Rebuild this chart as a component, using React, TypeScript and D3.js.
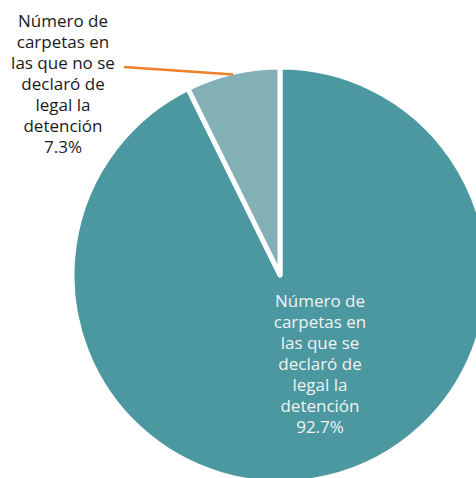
import React from "react";
import * as d3 from "d3";

const categories = [
  "Número de carpetas en las que se declaró de legal la detención",
  "Número de carpetas en las que no se declaró de legal la detención",
];
const values = [92.7, 7.3];
const labelLines = [
  ["Número de", "carpetas en", "las que se", "declaró de", "legal la", "detención", "92.7%"],
  ["Número de", "carpetas en", "las que no se", "declaró de", "legal la", "detención", "7.3%"],
];
const colors = ["#4b98a0", "#83b0b7"];

export default function App() {
  const W = 476, H = 478;
  const cx = 280, cy = 275, r = 208;
  const pie = d3.pie<number>().sort(null).value((d) => d);
  const arcs = pie(values);
  const arc = d3.arc<d3.PieArcDatum<number>>().innerRadius(0).outerRadius(r);
  const lh = 21;
  const fs = 17;

  const small = arcs[1];
  const mid = (small.startAngle + small.endAngle) / 2;
  const lx1 = cx + Math.sin(mid) * (r - 2);
  const ly1 = cy - Math.cos(mid) * (r - 2);

  const bigLabel = { x: 320, y: 307 };
  const smallLabel = { x: 63, y: 27 };

  return (
    <svg width={W} height={H} style={{ position: "absolute", left: 0, top: 0 }}>
      <g transform={`translate(${cx},${cy})`}>
        {arcs.map((a, i) => (
          <path key={i} d={arc(a) || ""} fill={colors[i]} stroke="#fff" strokeWidth={5} strokeLinejoin="round" />
        ))}
      </g>
      <line x1={lx1} y1={ly1} x2={124} y2={67} stroke="#f07f2a" strokeWidth={2.5} />
      <text fontFamily="'Open Sans', sans-serif" fontSize={fs} fill="#f2f2f2" textAnchor="middle">
        {labelLines[0].map((t, i) => (
          <tspan key={i} x={bigLabel.x} y={bigLabel.y + i * lh}>{t}</tspan>
        ))}
      </text>
      <text fontFamily="'Open Sans', sans-serif" fontSize={fs} fill="#1a1a1a" textAnchor="middle">
        {labelLines[1].map((t, i) => (
          <tspan key={i} x={smallLabel.x} y={smallLabel.y + i * lh}>{t}</tspan>
        ))}
      </text>
    </svg>
  );
}
